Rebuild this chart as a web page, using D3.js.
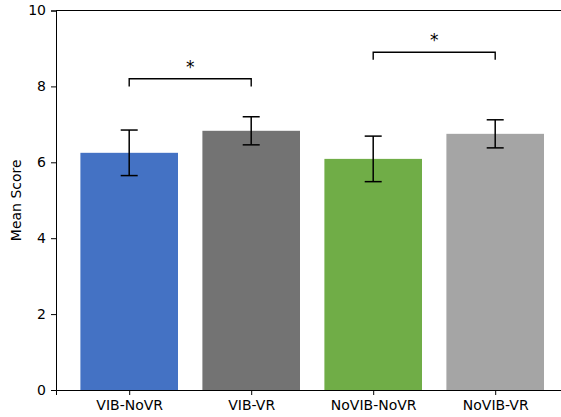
<!DOCTYPE html>
<html>
<head>
<meta charset="utf-8">
<script src="https://cdn.jsdelivr.net/npm/d3@7"></script>
<style>
  html, body { margin: 0; padding: 0; background: #fff; }
  svg { display: block; font-family: "DejaVu Sans", sans-serif; }
  text { fill: #000; }
</style>
</head>
<body>
<svg id="chart" width="561" height="417"></svg>
<script>
// Group means with their error half-widths
const categories = ["VIB-NoVR", "VIB-VR", "NoVIB-NoVR", "NoVIB-VR"];
const means = [6.25, 6.83, 6.09, 6.75];
const errors = [0.60, 0.37, 0.60, 0.37];
const colors = ["#4472C4", "#737373", "#70AD47", "#A5A5A5"];
const yTicks = [0, 2, 4, 6, 8, 10];

// Significance brackets: pair of category indices, bar height, tick depth
const brackets = [
  { from: 0, to: 1, y: 8.2, drop: 0.2, label: "*" },
  { from: 2, to: 3, y: 8.9, drop: 0.2, label: "*" }
];

const svg = d3.select("#chart");
const plotLeft = 56, plotTop = 10.5, plotBottom = 390;
const unit = 122;
const fontSize = 14;

const x = d3.scaleLinear().domain([-0.6, 3.6]).range([plotLeft, plotLeft + 4.2 * unit]);
const y = d3.scaleLinear().domain([0, 10]).range([plotBottom, plotTop]);
const barW = 0.8;

// Bars
svg.append("g").selectAll("rect")
  .data(means)
  .join("rect")
  .attr("x", (d, i) => x(i - barW / 2))
  .attr("width", x(barW) - x(0))
  .attr("y", d => y(d))
  .attr("height", d => y(0) - y(d))
  .attr("fill", (d, i) => colors[i]);

// Error bars
const eb = svg.append("g").attr("stroke", "#000").attr("stroke-width", 1.5);
means.forEach((m, i) => {
  const cx = x(i);
  eb.append("line").attr("x1", cx).attr("x2", cx).attr("y1", y(m - errors[i])).attr("y2", y(m + errors[i]));
  [m - errors[i], m + errors[i]].forEach(v => {
    eb.append("line").attr("x1", cx - 8.5).attr("x2", cx + 8.5).attr("y1", y(v)).attr("y2", y(v));
  });
});

// Significance brackets
const bg = svg.append("g");
brackets.forEach(b => {
  const x1 = x(b.from), x2 = x(b.to);
  const path = d3.path();
  path.moveTo(x1, y(b.y - b.drop));
  path.lineTo(x1, y(b.y));
  path.lineTo(x2, y(b.y));
  path.lineTo(x2, y(b.y - b.drop));
  bg.append("path").attr("d", path.toString()).attr("fill", "none")
    .attr("stroke", "#000").attr("stroke-width", 1.4);
  bg.append("text").attr("x", (x1 + x2) / 2).attr("y", y(b.y) - 6)
    .attr("text-anchor", "middle").attr("font-size", 17).text(b.label);
});

// Y axis
const yAxis = d3.axisLeft(y).tickValues(yTicks).tickFormat(d3.format("d")).tickSizeOuter(0).tickSize(5).tickPadding(5);
const gy = svg.append("g").attr("transform", `translate(${plotLeft},0)`).call(yAxis)
  .attr("font-size", fontSize).attr("font-family", "DejaVu Sans, sans-serif");
gy.select(".domain").attr("stroke", "#000").attr("stroke-width", 1);
gy.selectAll(".tick line").attr("stroke", "#000");

// X axis
const xAxis = d3.axisBottom(x).tickValues(d3.range(categories.length))
  .tickFormat(i => categories[i]).tickSizeOuter(0).tickSize(5).tickPadding(5);
const gx = svg.append("g").attr("transform", `translate(0,${plotBottom})`).call(xAxis)
  .attr("font-size", fontSize).attr("font-family", "DejaVu Sans, sans-serif");
gx.select(".domain").attr("stroke", "#000").attr("stroke-width", 1);
gx.selectAll(".tick line").attr("stroke", "#000");

// Top spine
svg.append("line").attr("x1", plotLeft).attr("x2", x(3.6)).attr("y1", plotTop).attr("y2", plotTop)
  .attr("stroke", "#000").attr("stroke-width", 1);

// Y axis label
svg.append("text").attr("transform", `translate(21,${(plotTop + plotBottom) / 2}) rotate(-90)`)
  .attr("text-anchor", "middle").attr("font-size", fontSize).text("Mean Score");
</script>
</body>
</html>
